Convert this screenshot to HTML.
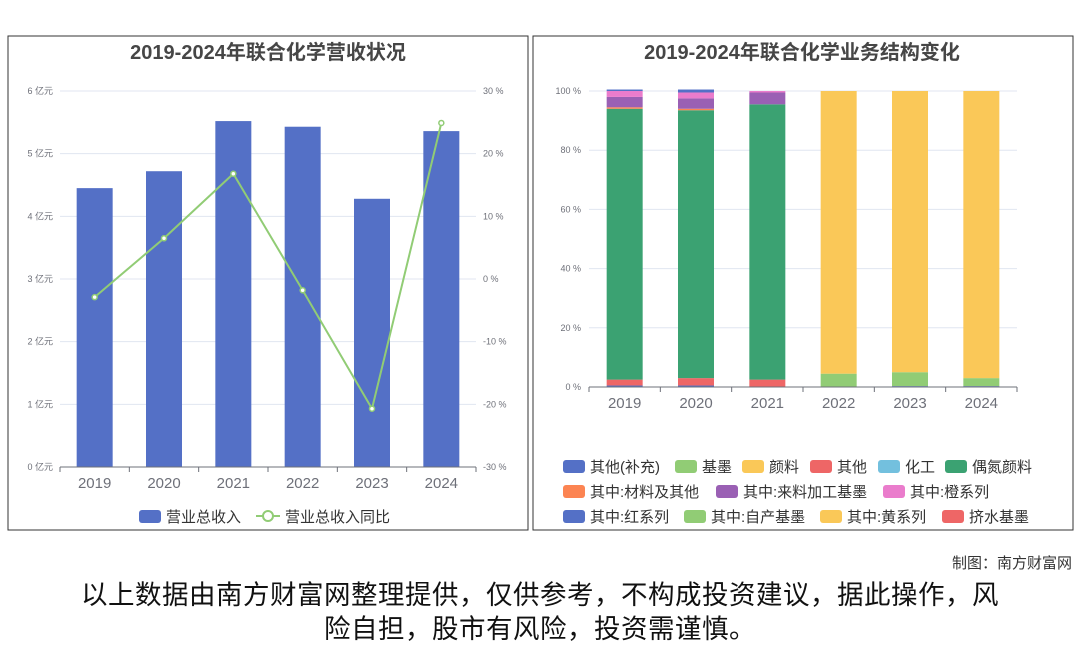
<!DOCTYPE html>
<html><head><meta charset="utf-8">
<style>
body{margin:0;width:1080px;height:646px;background:#fff;overflow:hidden;font-family:"Liberation Sans","Noto Sans CJK SC",sans-serif;}
svg{position:absolute;left:0;top:0}
.note{position:absolute;left:0;width:1080px;text-align:center;font-size:26.5px;color:#111;line-height:34px;letter-spacing:0.5px}
</style></head><body>
<svg id="s" width="1080" height="646" font-family="Liberation Sans, Noto Sans CJK SC, sans-serif">
<rect x="8" y="36" width="520" height="494" fill="none" stroke="#333"/>
<rect x="533" y="36" width="540" height="494" fill="none" stroke="#333"/>
<text x="268" y="59" text-anchor="middle" font-size="20" font-weight="bold" fill="#464646">2019-2024年联合化学营收状况</text>
<text x="802" y="59" text-anchor="middle" font-size="20" font-weight="bold" fill="#464646">2019-2024年联合化学业务结构变化</text>
<text x="1072" y="568" text-anchor="end" font-size="15" fill="#333">制图：南方财富网</text>
<g id="L"></g><g id="R"></g>
</svg>
<div class="note" style="top:578px">以上数据由南方财富网整理提供，仅供参考，不构成投资建议，据此操作，风<br>险自担，股市有风险，投资需谨慎。</div>
<script>
const years=['2019','2020','2021','2022','2023','2024'];
const revenue=[4.45,4.72,5.52,5.43,4.28,5.36];
const growth=[-2.9,6.5,16.8,-1.8,-20.7,24.9];
const leftTicks=['0 亿元','1 亿元','2 亿元','3 亿元','4 亿元','5 亿元','6 亿元'];
const rightTicks=['-30 %','-20 %','-10 %','0 %','10 %','20 %','30 %'];
const pctTicks=['0 %','20 %','40 %','60 %','80 %','100 %'];
const seriesNames=['其他(补充)','基墨','颜料','其他','化工','偶氮颜料','其中:材料及其他','其中:来料加工基墨','其中:橙系列','其中:红系列','其中:自产基墨','其中:黄系列','挤水基墨'];
const seriesColors=['#5470c6','#91cc75','#fac858','#ee6666','#73c0de','#3ba272','#fc8452','#9a60b4','#ea7ccc','#5470c6','#91cc75','#fac858','#ee6666'];
const shares=[
 [0.5,0,0,2,0,91.5,0.5,3.5,2,0.5,0,0,0],
 [0.5,0,0,2.5,0,90.5,0.5,3.5,2,1,0,0,0],
 [0,0,0,2.5,0,93,0,4,0.5,0,0,0,0],
 [0,4.5,95.5,0,0,0,0,0,0,0,0,0,0],
 [0.3,4.7,95,0,0,0,0,0,0,0,0,0,0],
 [0.3,2.7,97,0,0,0,0,0,0,0,0,0,0]
];
const NS='http://www.w3.org/2000/svg';
function mk(p,t,a){const e=document.createElementNS(NS,t);for(const k in a)e.setAttribute(k,a[k]);p.appendChild(e);return e;}
const L=document.getElementById('L'),R=document.getElementById('R');
const lx0=60,lx1=476,ly0=467,ly1=91;
const lbw=(lx1-lx0)/years.length;
const yL=v=>ly0-(v/6)*(ly0-ly1);
const yR=v=>ly0-((v+30)/60)*(ly0-ly1);
const xC=i=>lx0+lbw*(i+0.5);
leftTicks.forEach((t,i)=>{const y=ly0-i*(ly0-ly1)/6;
 if(i>0){let g=mk(L,'line',{x1:lx0,x2:lx1,y1:y,y2:y,stroke:'#e0e6f1'});}
 let a=mk(L,'text',{x:53,y:y+3,'text-anchor':'end','font-size':9,fill:'#6e7079'});a.textContent=t;
 let b=mk(L,'text',{x:483,y:y+3,'font-size':9,fill:'#6e7079'});b.textContent=rightTicks[i];});
revenue.forEach((v,i)=>{let r=mk(L,'rect',{x:xC(i)-18,y:yL(v),width:36,height:ly0-yL(v),fill:'#5470c6'});});
let ax=mk(L,'line',{x1:lx0,x2:lx1,y1:ly0,y2:ly0,stroke:'#6e7079'});
years.forEach((y,i)=>{mk(L,'line',{x1:lx0+lbw*i,x2:lx0+lbw*i,y1:ly0,y2:ly0+5,stroke:'#6e7079'});
 let t=mk(L,'text',{x:xC(i),y:488,'text-anchor':'middle','font-size':15,fill:'#6e7079'});t.textContent=y;});
mk(L,'line',{x1:lx1,x2:lx1,y1:ly0,y2:ly0+5,stroke:'#6e7079'});
let pl=mk(L,'polyline',{points:growth.map((g,i)=>xC(i)+','+yR(g)).join(' '),fill:'none',stroke:'#91cc75','stroke-width':2});
growth.forEach((g,i)=>{let c=mk(L,'circle',{cx:xC(i),cy:yR(g),r:2.5,fill:'#fff',stroke:'#91cc75','stroke-width':1.5});});
let lg1=mk(L,'rect',{x:139,y:510,width:22,height:13,rx:3,fill:'#5470c6'});
let lt1=mk(L,'text',{x:166,y:522,'font-size':15,fill:'#333'});lt1.textContent='营业总收入';
mk(L,'line',{x1:256,x2:280,y1:516,y2:516,stroke:'#91cc75','stroke-width':2});
mk(L,'circle',{cx:268,cy:516,r:5,fill:'#fff',stroke:'#91cc75','stroke-width':2});
let lt2=mk(L,'text',{x:285,y:522,'font-size':15,fill:'#333'});lt2.textContent='营业总收入同比';
const rx0=589,rx1=1017,ry0=387,ry1=91;
const rbw=(rx1-rx0)/years.length;
const yP=v=>ry0-(v/100)*(ry0-ry1);
const xR=i=>rx0+rbw*(i+0.5);
pctTicks.forEach((t,i)=>{const y=ry0-i*(ry0-ry1)/5;
 if(i>0){let g=mk(R,'line',{x1:rx0,x2:rx1,y1:y,y2:y,stroke:'#e0e6f1'});}
 let a=mk(R,'text',{x:581,y:y+3,'text-anchor':'end','font-size':9,fill:'#6e7079'});a.textContent=t;});
const order=[0,3,5,6,7,8,9,10,1,2,4,11,12];
years.forEach((yr,i)=>{let acc=0;
 order.forEach(s=>{const v=shares[i][s];if(!v)return;
  let r=mk(R,'rect',{x:xR(i)-18,y:yP(acc+v),width:36,height:yP(acc)-yP(acc+v),fill:seriesColors[s]});
  acc+=v;});});
mk(R,'line',{x1:rx0,x2:rx1,y1:ry0,y2:ry0,stroke:'#6e7079'});
years.forEach((y,i)=>{mk(R,'line',{x1:rx0+rbw*i,x2:rx0+rbw*i,y1:ry0,y2:ry0+5,stroke:'#6e7079'});
 let t=mk(R,'text',{x:xR(i),y:408,'text-anchor':'middle','font-size':15,fill:'#6e7079'});t.textContent=y;});
mk(R,'line',{x1:rx1,x2:rx1,y1:ry0,y2:ry0+5,stroke:'#6e7079'});
const legPos=[[563,466],[675,466],[742,466],[810,466],[878,466],[945,466],[563,491],[716,491],[883,491],[563,516],[684,516],[820,516],[942,516]];
seriesNames.forEach((n,i)=>{const [x,y]=legPos[i];
 let r=mk(R,'rect',{x:x,y:y-6,width:22,height:13,rx:3,fill:seriesColors[i]});
 let t=mk(R,'text',{x:x+27,y:y+6,'font-size':15,fill:'#333'});t.textContent=n;});
</script>
</body></html>
